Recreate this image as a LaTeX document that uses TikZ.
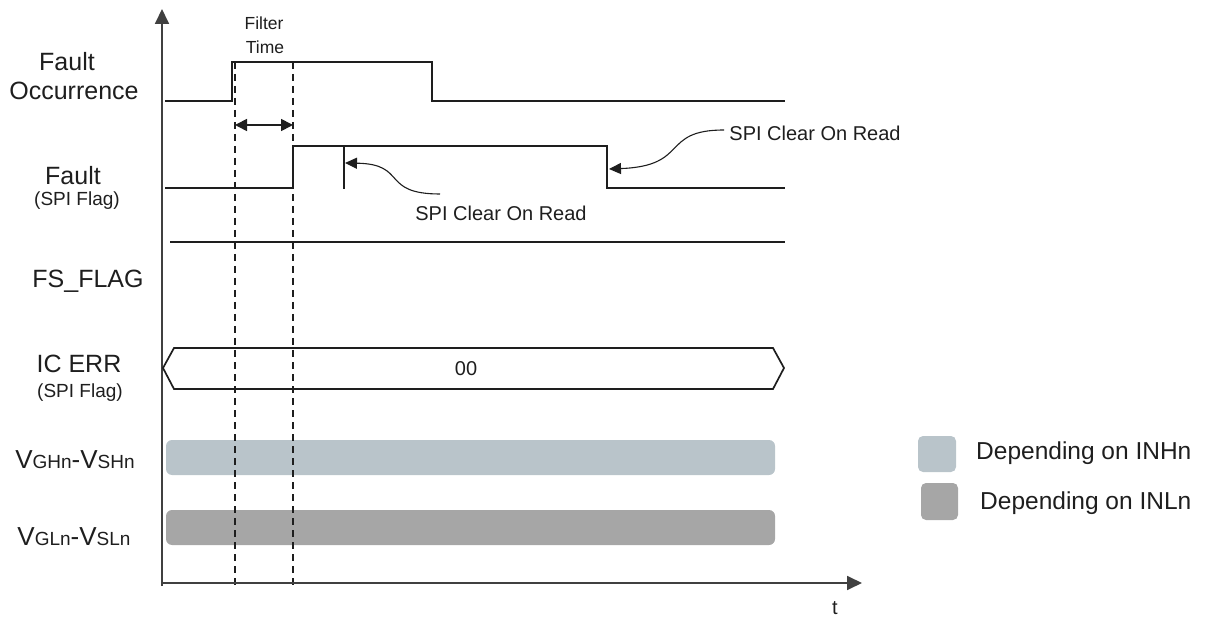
\documentclass[tikz,border=0pt]{standalone}
\usepackage{fontspec}
\setmainfont{Liberation Sans}
\usetikzlibrary{arrows.meta}
\definecolor{barH}{HTML}{B9C4CA}
\definecolor{barL}{HTML}{A6A6A6}
\definecolor{ink}{HTML}{1E1E1E}
\begin{document}
\begin{tikzpicture}[x=1pt,y=-1pt,
  sig/.style={line width=1.7pt, draw=ink},
  thin/.style={line width=1.1pt, draw=ink},
  ax/.style={line width=1.8pt, draw=ink!85, -{Triangle[length=15pt,width=14pt]}},
  dsh/.style={line width=1.4pt, draw=ink, dash pattern=on 7pt off 5pt},
  lbl/.style={font=\fontsize{25}{28}\selectfont, inner sep=0pt, text=ink},
  sublbl/.style={font=\fontsize{19}{22}\selectfont, inner sep=0pt, text=ink},
  note/.style={font=\fontsize{20}{22}\selectfont, inner sep=0pt, text=ink},
  small/.style={font=\fontsize{17.5}{20}\selectfont, inner sep=0pt, text=ink},
  leg/.style={font=\fontsize{24.5}{26}\selectfont, inner sep=0pt, anchor=west, text=ink},
  tip/.style={-{Triangle[length=12pt,width=11pt]}},
  dtip/.style={{Triangle[length=12pt,width=12pt]}-{Triangle[length=12pt,width=12pt]}}
]
\useasboundingbox (0,0) rectangle (1213,620);
\newcommand{\vlab}[2]{\fontsize{26}{28}\selectfont V\fontsize{19}{20}\selectfont #1\fontsize{26}{28}\selectfont -V\fontsize{19}{20}\selectfont #2}

% labels
\node[lbl] (lfo1) at (67,62) {Fault};
\node[lbl] (lfo2) at (74,91) {Occurrence};
\node[lbl, anchor=base] (lf1) at (73,185) {Fault};
\node[sublbl, anchor=base] (lf2) at (77,206) {(SPI Flag)};
\node[lbl] (lfs) at (88,281) {FS\_FLAG};
\node[lbl, anchor=base] (lic1) at (79,372) {IC ERR};
\node[sublbl, anchor=base] (lic2) at (80,397) {(SPI Flag)};
\node[inner sep=0pt, text=ink] (lvh) at (75,460) {\vlab{GHn}{SHn}};
\node[inner sep=0pt, text=ink] (lvl) at (74,537) {\vlab{GLn}{SLn}};
\node[small] (ft1) at (264,23) {Filter};
\node[small] (ft2) at (265,47) {Time};
\node[note] (t) at (835,608) {t};

% bars
\fill[barH, rounded corners=6pt] (166,440) rectangle (775,475);
\fill[barL, rounded corners=6pt] (166,510) rectangle (775,545);

% dashed markers
\coordinate (d1t) at (235,62); \coordinate (d1b) at (235,585);
\coordinate (d2t) at (293,62); \coordinate (d2b) at (293,585);
\draw[dsh] (d1t) -- (d1b);
\draw[dsh] (d2t) -- (d2b);

% axes
\coordinate (o1) at (162,586); \coordinate (ytop) at (162,9);
\coordinate (o2) at (161,583); \coordinate (xend) at (862,583);
\draw[ax] (o1) -- (ytop);
\draw[ax] (o2) -- (xend);

% fault occurrence
\draw[sig] (165,101) -- (232,101) -- (232,62) -- (432,62) -- (432,101) -- (785,101);
% filter time
\coordinate (fa) at (235,125); \coordinate (fb) at (293,125);
\draw[sig, dtip] (fa) -- (fb);
% fault spi flag
\draw[sig] (165,188) -- (293,188) -- (293,146) -- (607,146) -- (607,188) -- (785,188);
\draw[sig] (344,146) -- (344,189);
% clear-on-read notes
\node[note] (c1) at (501,213) {SPI Clear On Read};
\node[note] (c2) at (815,133) {SPI Clear On Read};
\coordinate (c1s) at (440,194); \coordinate (c1e) at (345,163);
\coordinate (c2s) at (724,130); \coordinate (c2e) at (609,169);
\draw[thin, tip] (c1s) .. controls (380,194) and (408,164) .. (c1e);
\draw[thin, tip] (c2s) .. controls (660,130) and (690,166) .. (c2e);
% FS_FLAG
\draw[sig] (170,242) -- (785,242);
% IC ERR bus
\draw[sig, line join=miter] (163,368) -- (174,348) -- (773,348) -- (784,368) -- (773,389) -- (174,389) -- cycle;
\node[note] (v00) at (466,369) {00};

% legend
\fill[barH, rounded corners=5pt] (918,436) rectangle (956,472);
\fill[barL, rounded corners=5pt] (921,483) rectangle (958,520);
\node[leg] (lg1) at (976,453) {Depending on INHn};
\node[leg] (lg2) at (980,503) {Depending on INLn};
\end{tikzpicture}
\end{document}
